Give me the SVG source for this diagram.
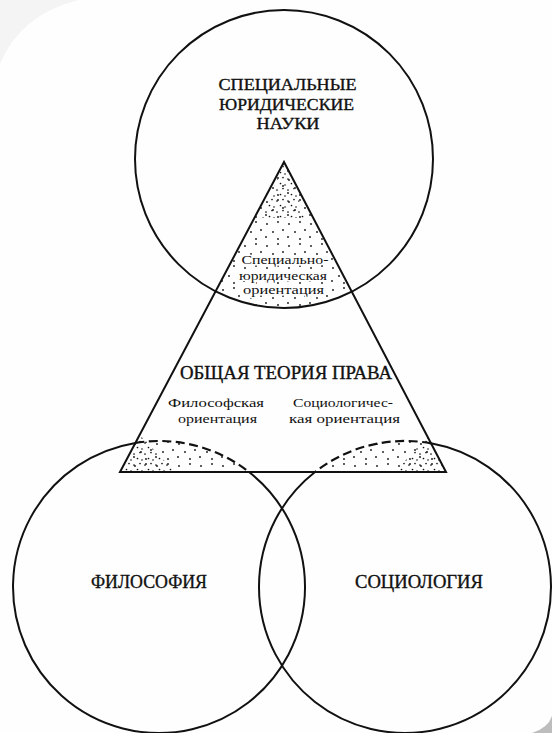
<svg xmlns="http://www.w3.org/2000/svg" width="552" height="733" viewBox="0 0 552 733">
<style>
.ln{fill:none;stroke:#111;stroke-width:2}
.dash{fill:none;stroke:#111;stroke-width:2.2;stroke-dasharray:9 4.5}
.big{font-family:"Liberation Serif","Times New Roman",serif;font-size:18px;fill:#111;text-anchor:middle;stroke:#111;stroke-width:0.35}
.top{font-size:16.5px}
.sm{font-family:"Liberation Serif","Times New Roman",serif;font-size:13.5px;fill:#111;text-anchor:middle}
.halo{paint-order:stroke;stroke:#fff;stroke-width:3;stroke-linejoin:round}
</style>
<defs>
<pattern id="dots" width="22" height="22" patternUnits="userSpaceOnUse">
<g fill="#111">
<circle cx="3" cy="4" r="0.9"/><circle cx="14" cy="2" r="0.9"/><circle cx="9" cy="12" r="0.9"/>
<circle cx="19" cy="10" r="0.9"/><circle cx="2" cy="17" r="0.9"/><circle cx="14" cy="19" r="0.9"/>
</g>
</pattern>
<pattern id="dense" width="11" height="11" patternUnits="userSpaceOnUse">
<g fill="#111">
<circle cx="2" cy="3" r="0.85"/><circle cx="8" cy="1.5" r="0.85"/><circle cx="5.5" cy="7.5" r="0.85"/><circle cx="10" cy="9" r="0.8"/>
</g>
</pattern>
<clipPath id="tri"><polygon points="284,162 120,472 446,472"/></clipPath>
</defs>
<rect width="552" height="733" fill="#fefefe"/>
<path d="M0,0 H78 Q20,15 0,64 Z" fill="#f4f4f4"/>
<path d="M552,716 L552,733 L532,733 Q548,728 552,716 Z" fill="#bdbdbd"/>

<g id="stipple" clip-path="url(#tri)">
<circle cx="284" cy="159" r="149" fill="url(#dots)"/>
<polygon points="284,162 262,218 306,218" fill="url(#dense)"/>
<circle cx="159" cy="587" r="146" fill="url(#dots)"/>
<polygon points="120,472 140,435 175,472" fill="url(#dense)"/>
<circle cx="405" cy="587" r="146" fill="url(#dots)"/>
<polygon points="446,472 428,435 395,472" fill="url(#dense)"/>
</g>

<g id="node-special">
<circle class="ln" cx="284" cy="159" r="149"/>
<text class="big top" x="287.5" y="90" textLength="138" lengthAdjust="spacingAndGlyphs">СПЕЦИАЛЬНЫЕ</text>
<text class="big top" x="286.5" y="110" textLength="135" lengthAdjust="spacingAndGlyphs">ЮРИДИЧЕСКИЕ</text>
<text class="big top" x="288" y="129" textLength="63" lengthAdjust="spacingAndGlyphs">НАУКИ</text>
</g>

<g id="node-theory">
<polygon class="ln" points="284,162 120,472 446,472" stroke-linejoin="miter"/>
<text class="sm halo" x="285" y="264" textLength="87" lengthAdjust="spacingAndGlyphs">Специально-</text>
<text class="sm halo" x="283" y="280" textLength="88" lengthAdjust="spacingAndGlyphs">юридическая</text>
<text class="sm halo" x="283.5" y="294" textLength="81" lengthAdjust="spacingAndGlyphs">ориентация</text>
<text class="big" x="286" y="379" textLength="212" lengthAdjust="spacingAndGlyphs">ОБЩАЯ ТЕОРИЯ ПРАВА</text>
<text class="sm" x="216" y="407" textLength="96" lengthAdjust="spacingAndGlyphs">Философская</text>
<text class="sm" x="217.5" y="423" textLength="79" lengthAdjust="spacingAndGlyphs">ориентация</text>
<text class="sm" x="343" y="407" textLength="100" lengthAdjust="spacingAndGlyphs">Социологичес-</text>
<text class="sm" x="344.5" y="423" textLength="111" lengthAdjust="spacingAndGlyphs">кая ориентация</text>
</g>

<g id="node-philosophy">
<path class="ln" d="M135.4,442.9 A146,146 0 1 0 249,472"/>
<path class="dash" d="M135.4,442.9 A146,146 0 0 1 249,472"/>
<text class="big" x="149" y="588" textLength="116" lengthAdjust="spacingAndGlyphs">ФИЛОСОФИЯ</text>
</g>

<g id="node-sociology">
<path class="ln" d="M431,443.3 A146,146 0 1 1 315,472"/>
<path class="dash" d="M431,443.3 A146,146 0 0 0 315,472"/>
<text class="big" x="419" y="588" textLength="128" lengthAdjust="spacingAndGlyphs">СОЦИОЛОГИЯ</text>
</g>

<g id="connectors"/>
</svg>
